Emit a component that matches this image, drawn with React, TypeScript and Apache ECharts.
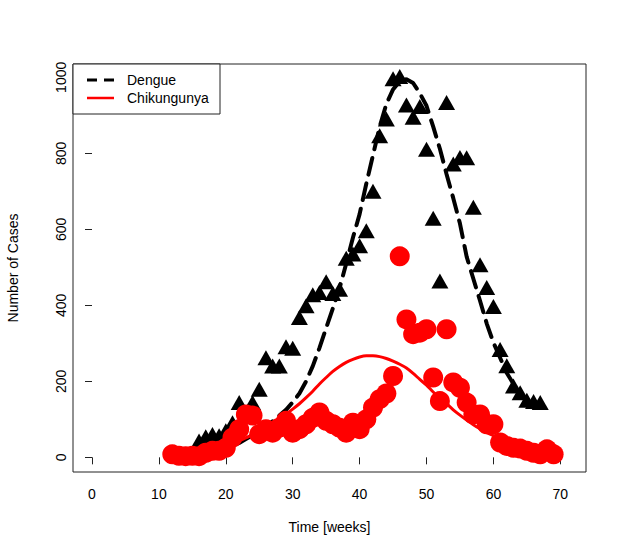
import React, { useEffect, useRef } from "react";
import * as echarts from "echarts";

const xTicks = [0, 10, 20, 30, 40, 50, 60, 70];
const yTicks = [0, 200, 400, 600, 800, 1000];

const dengueWeeks = [16, 17, 18, 19, 20, 21, 22, 23, 24, 25, 26, 27, 28, 29, 30, 31, 32, 33, 34, 35, 36, 37, 38, 39, 40, 41, 42, 43, 44, 45, 46, 47, 48, 49, 50, 51, 52, 53, 54, 55, 56, 57, 58, 59, 60, 61, 62, 63, 64, 65, 66, 67];
const dengueCases = [43, 54, 60, 57, 70, 91, 144, 112, 144, 179, 262, 240, 240, 291, 287, 368, 399, 428, 434, 462, 431, 442, 524, 535, 557, 596, 700, 846, 890, 996, 1002, 927, 895, 923, 811, 629, 464, 934, 772, 789, 788, 658, 507, 447, 397, 284, 241, 188, 170, 150, 147, 144];

const chikWeeks = [12, 13, 14, 15, 16, 17, 18, 19, 20, 21, 22, 23, 24, 25, 26, 27, 28, 29, 30, 31, 32, 33, 34, 35, 36, 37, 38, 39, 40, 41, 42, 43, 44, 45, 46, 47, 48, 49, 50, 51, 52, 53, 54, 55, 56, 57, 58, 59, 60, 61, 62, 63, 64, 65, 66, 67, 68, 69];
const chikCases = [8, 4, 3, 4, 3, 12, 17, 17, 25, 52, 74, 113, 110, 61, 74, 65, 78, 96, 65, 74, 87, 104, 118, 96, 87, 78, 65, 91, 74, 100, 131, 153, 168, 214, 529, 363, 324, 328, 337, 210, 148, 337, 197, 183, 144, 113, 113, 87, 87, 39, 30, 25, 23, 17, 12, 8, 21, 8];

const dengueFitWeeks = [14, 15, 16, 17, 18, 19, 20, 21, 22, 23, 24, 25, 26, 27, 28, 29, 30, 31, 32, 33, 34, 35, 36, 37, 38, 39, 40, 41, 42, 43, 44, 45, 46, 47, 48, 49, 50, 51, 52, 53, 54, 55, 56, 57, 58, 59, 60, 61, 62, 63, 64, 65, 66];
const dengueFit = [5, 7, 9, 12, 15, 19, 24, 30, 38, 48, 58, 70, 82, 95, 110, 125, 145, 168, 200, 240, 288, 340, 392, 445, 510, 578, 640, 720, 795, 870, 930, 968, 990, 995, 985, 958, 925, 870, 812, 745, 682, 615, 528, 470, 412, 352, 302, 262, 222, 193, 168, 145, 125];

const chikFitWeeks = [12, 13, 14, 15, 16, 17, 18, 19, 20, 21, 22, 23, 24, 25, 26, 27, 28, 29, 30, 31, 32, 33, 34, 35, 36, 37, 38, 39, 40, 41, 42, 43, 44, 45, 46, 47, 48, 49, 50, 51, 52, 53, 54, 55, 56, 57, 58, 59, 60, 61, 62, 63, 64, 65, 66, 67, 68, 69];
const chikFit = [4, 5, 7, 9, 12, 15, 19, 24, 30, 36, 43, 51, 60, 69, 79, 90, 102, 114, 127, 141, 157, 174, 193, 210, 226, 239, 250, 258, 264, 267, 267, 265, 260, 253, 245, 235, 221, 205, 190, 172, 156, 141, 125, 111, 98, 86, 75, 65, 57, 50, 44, 38, 33, 28, 23, 19, 15, 11];

const seriesNames = ["Dengue", "Chikungunya"];
const xTitle = "Time [weeks]";
const yTitle = "Number of Cases";

const FONT = "'Liberation Sans', Arial, Helvetica, sans-serif";

const zip = (xs: number[], ys: number[]) => xs.map((x, i) => [x, ys[i]]);

export default function App() {
  const ref = useRef<HTMLDivElement>(null);
  useEffect(() => {
    if (!ref.current) return;
    const chart = echarts.init(ref.current, undefined, { renderer: "svg" });
    const gl = 73, gt = 64, gw = 513, gh = 408;
    chart.setOption({
      animation: false,
      backgroundColor: "#ffffff",
      grid: { left: gl, top: gt, width: gw, height: gh, show: true, borderColor: "#222", borderWidth: 1, backgroundColor: "transparent" },
      xAxis: {
        type: "value",
        min: -2.84,
        max: 73.84,
        axisLine: { show: false },
        splitLine: { show: false },
        axisTick: { show: true, customValues: xTicks, length: 7, lineStyle: { color: "#222", width: 1 } },
        axisLabel: { customValues: xTicks, margin: 15, fontSize: 14, color: "#000", fontFamily: FONT, formatter: (v: number) => String(v) },
      },
      yAxis: {
        type: "value",
        min: -38.6,
        max: 1035,
        axisLine: { show: false },
        splitLine: { show: false },
        axisTick: { show: true, customValues: yTicks, length: 7, lineStyle: { color: "#222", width: 1 } },
        axisLabel: { customValues: yTicks, rotate: 90, margin: 5, fontSize: 14, color: "#000", fontFamily: FONT, formatter: (v: number) => String(v) },
      },
      series: [
        {
          name: seriesNames[0] + " data",
          type: "scatter",
          symbol: "triangle",
          symbolSize: [17, 15],
          itemStyle: { color: "#000", opacity: 1 },
          data: zip(dengueWeeks, dengueCases),
          z: 2,
        },
        {
          name: seriesNames[0],
          type: "line",
          showSymbol: false,
          symbol: "none",
          data: zip(dengueFitWeeks, dengueFit),
          lineStyle: { color: "#000", width: 4, type: [17, 9], cap: "round" },
          z: 3,
        },
        {
          name: seriesNames[1] + " data",
          type: "scatter",
          symbol: "circle",
          symbolSize: 20,
          itemStyle: { color: "#ff0000", opacity: 1 },
          data: zip(chikWeeks, chikCases),
          z: 4,
        },
        {
          name: seriesNames[1],
          type: "line",
          showSymbol: false,
          symbol: "none",
          smooth: 0.3,
          data: zip(chikFitWeeks, chikFit),
          lineStyle: { color: "#ff0000", width: 3 },
          z: 5,
        },
      ],
      graphic: [
        {
          type: "rect",
          shape: { x: gl, y: gt, width: 147, height: 50 },
          style: { fill: "#fff", stroke: "#222", lineWidth: 1 },
          z: 10,
        },
        {
          type: "line",
          shape: { x1: 87, y1: 80, x2: 114, y2: 80 },
          style: { stroke: "#000", lineWidth: 3, lineDash: [10, 7] },
          z: 11,
        },
        {
          type: "line",
          shape: { x1: 87, y1: 98, x2: 114, y2: 98 },
          style: { stroke: "#ff0000", lineWidth: 2.5 },
          z: 11,
        },
        {
          type: "text",
          x: 127,
          y: 80,
          style: { text: seriesNames[0], fontSize: 14, fontFamily: FONT, fill: "#000", textAlign: "left", textVerticalAlign: "middle" },
          z: 11,
        },
        {
          type: "text",
          x: 127,
          y: 98,
          style: { text: seriesNames[1], fontSize: 14, fontFamily: FONT, fill: "#000", textAlign: "left", textVerticalAlign: "middle" },
          z: 11,
        },
        {
          type: "text",
          x: gl + gw / 2,
          y: 527,
          style: { text: xTitle, fontSize: 14, fontFamily: FONT, fill: "#000", textAlign: "center", textVerticalAlign: "middle" },
        },
        {
          type: "text",
          x: 13,
          y: gt + gh / 2,
          rotation: Math.PI / 2,
          style: { text: yTitle, fontSize: 14, fontFamily: FONT, fill: "#000", textAlign: "center", textVerticalAlign: "middle" },
        },
      ],
    });
    return () => chart.dispose();
  }, []);
  return <div ref={ref} style={{ position: "fixed", left: 0, top: 0, width: 623, height: 554 }} />;
}
